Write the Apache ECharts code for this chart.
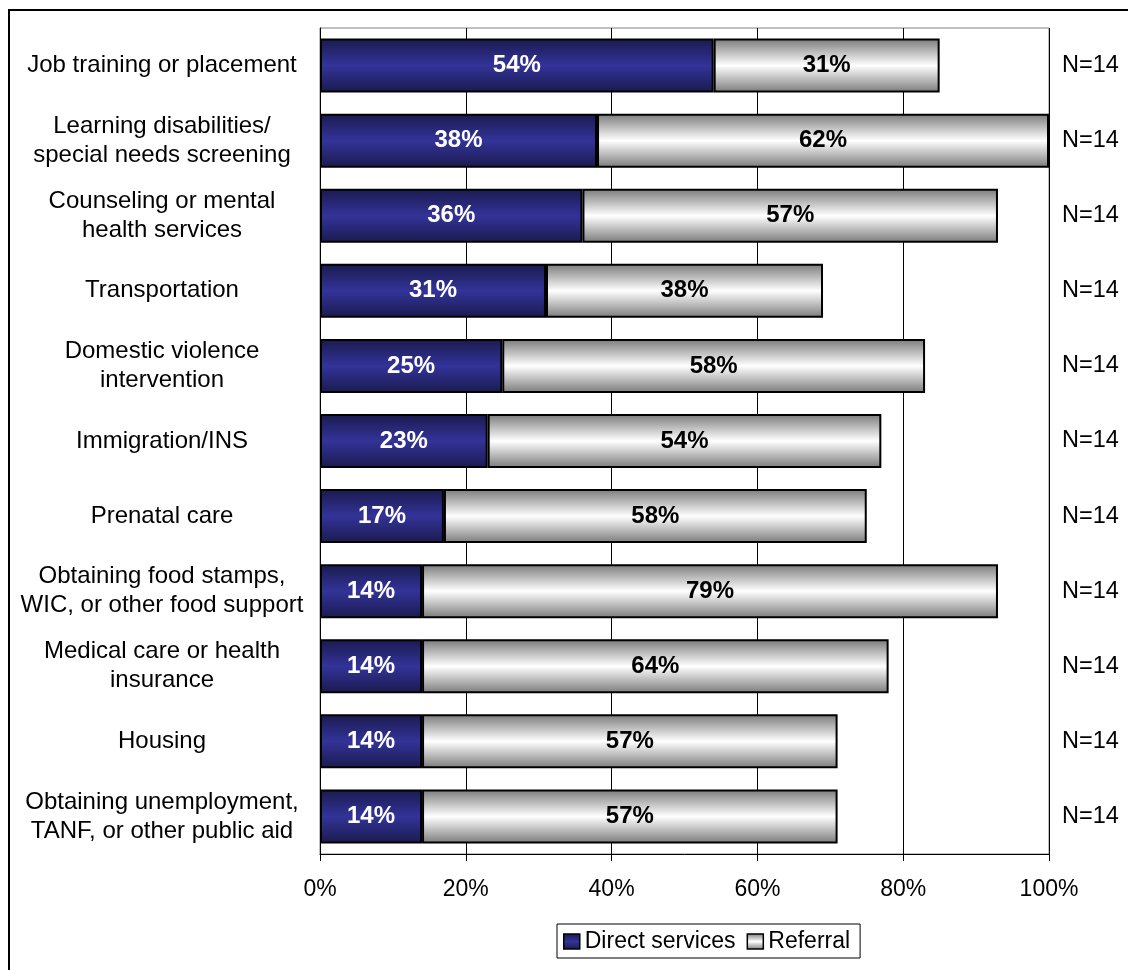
<!DOCTYPE html>
<html>
<head>
<meta charset="utf-8">
<style>
  html, body { margin: 0; padding: 0; background: #fff; }
  #chart { width: 1128px; height: 970px; }
</style>
<script src="https://cdn.jsdelivr.net/npm/echarts@6/dist/echarts.min.js"></script>
</head>
<body>
<div id="chart"></div>
<script>
// Services offered by programs: share providing each service directly vs. by referral
const categories = [
  'Job training or placement',
  'Learning disabilities/\nspecial needs screening',
  'Counseling or mental\nhealth services',
  'Transportation',
  'Domestic violence\nintervention',
  'Immigration/INS',
  'Prenatal care',
  'Obtaining food stamps,\nWIC, or other food support',
  'Medical care or health\ninsurance',
  'Housing',
  'Obtaining unemployment,\nTANF, or other public aid'
];
const directServices = [54, 38, 36, 31, 25, 23, 17, 14, 14, 14, 14];
const referral = [31, 62, 57, 38, 58, 54, 58, 79, 64, 57, 57];
const nLabels = ['N=14', 'N=14', 'N=14', 'N=14', 'N=14', 'N=14', 'N=14', 'N=14', 'N=14', 'N=14', 'N=14'];
const xTicks = [0, 20, 40, 60, 80, 100];

const FONT = "'Liberation Sans', Arial, sans-serif";

const chart = echarts.init(document.getElementById('chart'), null, { renderer: 'canvas' });

const navyFill = new echarts.graphic.LinearGradient(0, 0, 0, 1, [
  { offset: 0, color: '#1a1a4e' },
  { offset: 0.5, color: '#333399' },
  { offset: 1, color: '#1a1a4e' }
]);
const grayFill = new echarts.graphic.LinearGradient(0, 0, 0, 1, [
  { offset: 0, color: '#7a7a7a' },
  { offset: 0.5, color: '#ffffff' },
  { offset: 1, color: '#7a7a7a' }
]);

chart.setOption({
  animation: false,
  backgroundColor: '#ffffff',
  graphic: [{
    type: 'rect',
    shape: { x: 9, y: 10, width: 1300, height: 1100 },
    style: { fill: 'none', stroke: '#000', lineWidth: 2 },
    silent: true,
    z: 0
  }],
  grid: {
    left: 320, right: 79, top: 28, bottom: 116,
    show: true, borderColor: '#808080', borderWidth: 1,
    backgroundColor: 'transparent'
  },
  legend: {
    left: 557, top: 924,
    padding: [6, 10, 5, 6],
    borderColor: '#000', borderWidth: 1,
    icon: 'rect',
    itemWidth: 16, itemHeight: 15, itemGap: 11,
    textStyle: { fontFamily: FONT, fontSize: 23, color: '#000' },
    data: [
      { name: 'Direct services', itemStyle: { borderColor: '#000', borderWidth: 1.5 } },
      { name: 'Referral', itemStyle: { borderColor: '#000', borderWidth: 1.5 } }
    ]
  },
  xAxis: {
    type: 'value',
    min: xTicks[0], max: xTicks[xTicks.length - 1], interval: 20,
    axisLine: { show: true, lineStyle: { color: '#000', width: 1 } },
    axisTick: { show: true, length: 7, lineStyle: { color: '#000' } },
    splitLine: { show: true, lineStyle: { color: '#000', width: 1 } },
    axisLabel: {
      formatter: '{value}%', margin: 24,
      fontFamily: FONT, fontSize: 23, color: '#000'
    }
  },
  yAxis: [{
    type: 'category',
    inverse: true,
    data: categories,
    axisLine: { show: true, lineStyle: { color: '#000', width: 1 } },
    axisTick: { show: false },
    splitLine: { show: false },
    axisLabel: {
      align: 'center', margin: 158,
      fontFamily: FONT, fontSize: 24, lineHeight: 29, color: '#000'
    }
  }, {
    type: 'category',
    inverse: true,
    position: 'right',
    data: nLabels,
    axisLine: { show: false },
    axisTick: { show: false },
    splitLine: { show: false },
    axisLabel: {
      align: 'left', margin: 13,
      fontFamily: FONT, fontSize: 23.5, color: '#000'
    }
  }],
  series: [{
    name: 'Direct services',
    type: 'bar',
    stack: 'total',
    yAxisIndex: 0,
    barWidth: 54,
    data: directServices,
    itemStyle: { color: navyFill, borderColor: '#000', borderWidth: 2 },
    label: {
      show: true, position: 'inside', formatter: '{c}%',
      fontFamily: FONT, fontSize: 24, fontWeight: 'bold', color: '#ffffff'
    },
    z: 3
  }, {
    name: 'Referral',
    type: 'bar',
    stack: 'total',
    yAxisIndex: 0,
    barWidth: 54,
    data: referral,
    itemStyle: { color: grayFill, borderColor: '#000', borderWidth: 2 },
    label: {
      show: true, position: 'inside', formatter: '{c}%',
      fontFamily: FONT, fontSize: 24, fontWeight: 'bold', color: '#000000'
    },
    z: 3
  }]
});
</script>
</body>
</html>
